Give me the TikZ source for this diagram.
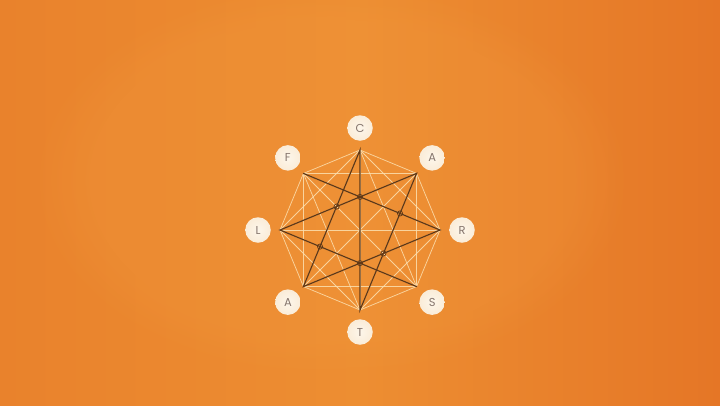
\documentclass[tikz,border=0pt]{standalone}
\usepackage{fontspec}
\setsansfont{Poppins}
\usetikzlibrary{fadings}
\definecolor{bgL}{RGB}{233,130,44}
\definecolor{bgM}{RGB}{237,142,50}
\definecolor{bgR}{RGB}{229,118,38}
\definecolor{glow}{RGB}{242,154,62}
\definecolor{chordc}{RGB}{252,224,176}
\definecolor{darkc}{RGB}{96,56,22}
\definecolor{discc}{RGB}{250,236,216}
\definecolor{discin}{RGB}{253,246,234}
\definecolor{letterc}{RGB}{134,118,110}
\tikzset{
  chord/.style={draw=chordc, line width=0.75pt, opacity=0.85},
  pathline/.style={draw=darkc, line width=1.2pt, line cap=round},
  crossmark/.style={draw=darkc, line width=0.7pt},
  disc/.style={circle, minimum size=25.5pt, inner sep=0pt, inner color=discin, outer color=discc,
    font=\sffamily\fontsize{11.5}{13}\selectfont, text=letterc},
}
\begin{document}
\begin{tikzpicture}[x=1pt,y=-1pt]
\useasboundingbox (0,0) rectangle (720,405);
\shade[left color=bgL, right color=bgR, middle color=bgM] (0,0) rectangle (720,405);
\fill[glow, opacity=0.25, path fading=circle with fuzzy edge 20 percent] (330,180) ellipse (300 and 200);
% vertices of the octagon (0 = top, clockwise)
\foreach \k in {0,...,7} {
  \pgfmathsetmacro{\a}{90-45*\k}
  \coordinate (v\k) at ({360+80*cos(\a)},{230-80*sin(\a)});
}
% all chords
\foreach \i in {0,...,7} {
  \foreach \j in {0,...,7} {
    \ifnum\i<\j
      \draw[chord] (v\i) -- (v\j);
    \fi
  }
}
% dark path F-R-A-C-T-A-L-S
\draw[pathline] (v7) -- (v2) -- (v5) -- (v0) -- (v4) -- (v1) -- (v6) -- (v3);
% crossing marks
\coordinate (x1) at (intersection of v7--v2 and v1--v6);
\coordinate (x2) at (intersection of v1--v6 and v0--v5);
\coordinate (x3) at (intersection of v7--v2 and v1--v4);
\coordinate (x4) at (intersection of v6--v3 and v0--v5);
\coordinate (x5) at (intersection of v2--v5 and v1--v4);
\coordinate (x6) at (intersection of v6--v3 and v2--v5);
\foreach \p in {x1,x2,x3,x4,x5,x6} \draw[crossmark] (\p) circle (2.6);
% label discs
\foreach \k/\t in {0/C,1/A,2/R,3/S,4/T,5/A,6/L,7/F} {
  \pgfmathsetmacro{\a}{90-45*\k}
  \node[disc] (l\k) at ({360+102*cos(\a)},{230-102*sin(\a)}) {\t};
}
\end{tikzpicture}
\end{document}
